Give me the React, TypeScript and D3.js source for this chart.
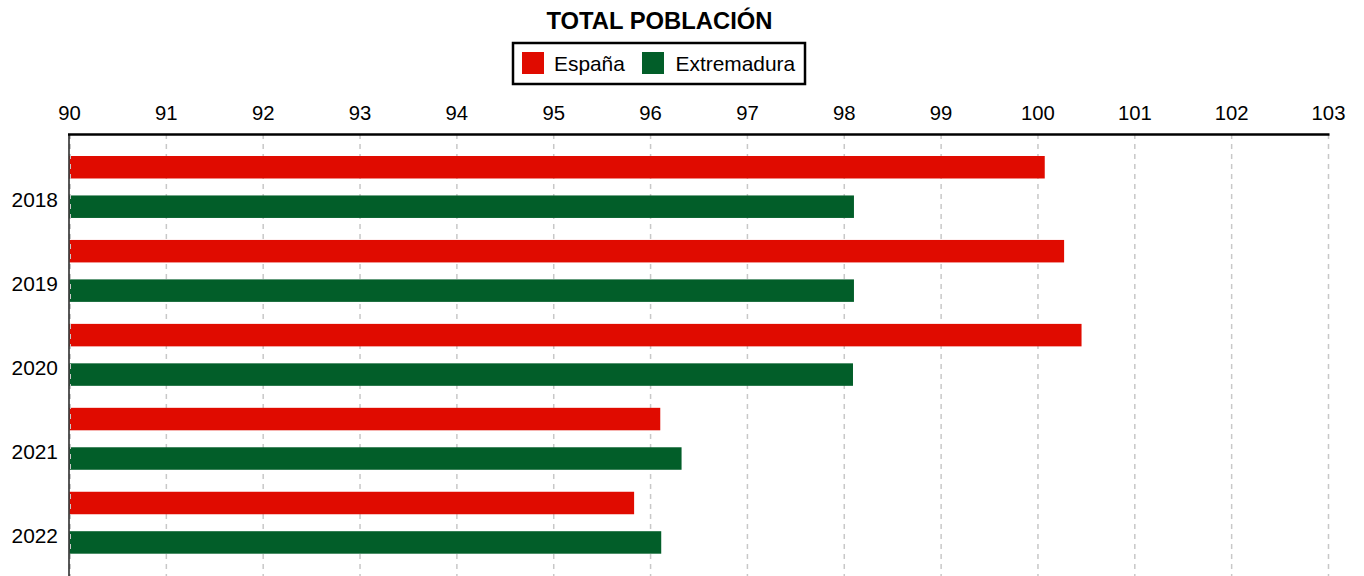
import React from "react";
import * as d3 from "d3";

const years = ["2018", "2019", "2020", "2021", "2022"];
const seriesNames = ["España", "Extremadura"];
const espana = [100.07, 100.27, 100.45, 96.1, 95.83];
const extremadura = [98.1, 98.1, 98.09, 96.32, 96.11];
const ticks = [90, 91, 92, 93, 94, 95, 96, 97, 98, 99, 100, 101, 102, 103];
const colors = ["#e00b00", "#025e29"];
const title = "TOTAL POBLACIÓN";

const W = 1364;
const H = 576;
const FONT = "'Liberation Sans', Arial, Helvetica, sans-serif";

export default function App() {
  const left = 69.5;
  const right = 1328.5;
  const top = 134;
  const x = d3.scaleLinear().domain([90, 103]).range([left, right]);
  const y0 = d3.scaleBand<string>().domain(years).range([top, top + 5 * 83.94]);
  const y1 = d3
    .scaleBand<string>()
    .domain(seriesNames)
    .range([22, y0.bandwidth()])
    .paddingInner(0.43)
    .paddingOuter(0);
  const values = [espana, extremadura];

  return (
    <svg
      width={W}
      height={H}
      style={{ position: "absolute", left: 0, top: 0, background: "#fff" }}
      fontFamily={FONT}
    >
      <text x={659.5} y={28.5} textAnchor="middle" fontSize={23.8} fontWeight="bold" fill="#000">
        {title}
      </text>
      <rect x={513} y={43} width={292} height={41} fill="#fff" stroke="#000" strokeWidth={2.5} />
      <rect x={522} y={52} width={22} height={22} fill={colors[0]} />
      <text x={554} y={70.5} fontSize={20.9} fill="#000">{seriesNames[0]}</text>
      <rect x={642} y={52} width={22} height={22} fill={colors[1]} />
      <text x={675.5} y={70.5} fontSize={20.9} fill="#000">{seriesNames[1]}</text>

      {ticks.map((t) => (
        <g key={t}>
          <line
            x1={x(t)}
            x2={x(t)}
            y1={top}
            y2={H}
            stroke="#c8c8c8"
            strokeWidth={1.5}
            strokeDasharray="5,5"
          />
          <text x={x(t)} y={119.5} textAnchor="middle" fontSize={20.3} fill="#000">
            {t}
          </text>
        </g>
      ))}

      {years.map((yr, i) => (
        <g key={yr}>
          {seriesNames.map((s, j) => (
            <rect
              key={s}
              x={x(90)}
              y={(y0(yr) as number) + (y1(s) as number)}
              width={x(values[j][i]) - x(90)}
              height={y1.bandwidth()}
              fill={colors[j]}
            />
          ))}
          <text
            x={58}
            y={(y0(yr) as number) + 65.5}
            textAnchor="end"
            dominantBaseline="central"
            fontSize={20.9}
            fill="#000"
          >
            {yr}
          </text>
        </g>
      ))}

      <line x1={x(90) - 0.5} x2={x(90) - 0.5} y1={top} y2={H} stroke="#222" strokeWidth={1.5} />
      <line
        x1={x(90) + 1}
        x2={x(90) + 1}
        y1={top}
        y2={H}
        stroke="#c8c8c8"
        strokeWidth={1}
        strokeDasharray="5,5"
      />
      <line x1={x(90) - 1.5} x2={right + 1} y1={top + 0.5} y2={top + 0.5} stroke="#000" strokeWidth={2.5} />
    </svg>
  );
}
